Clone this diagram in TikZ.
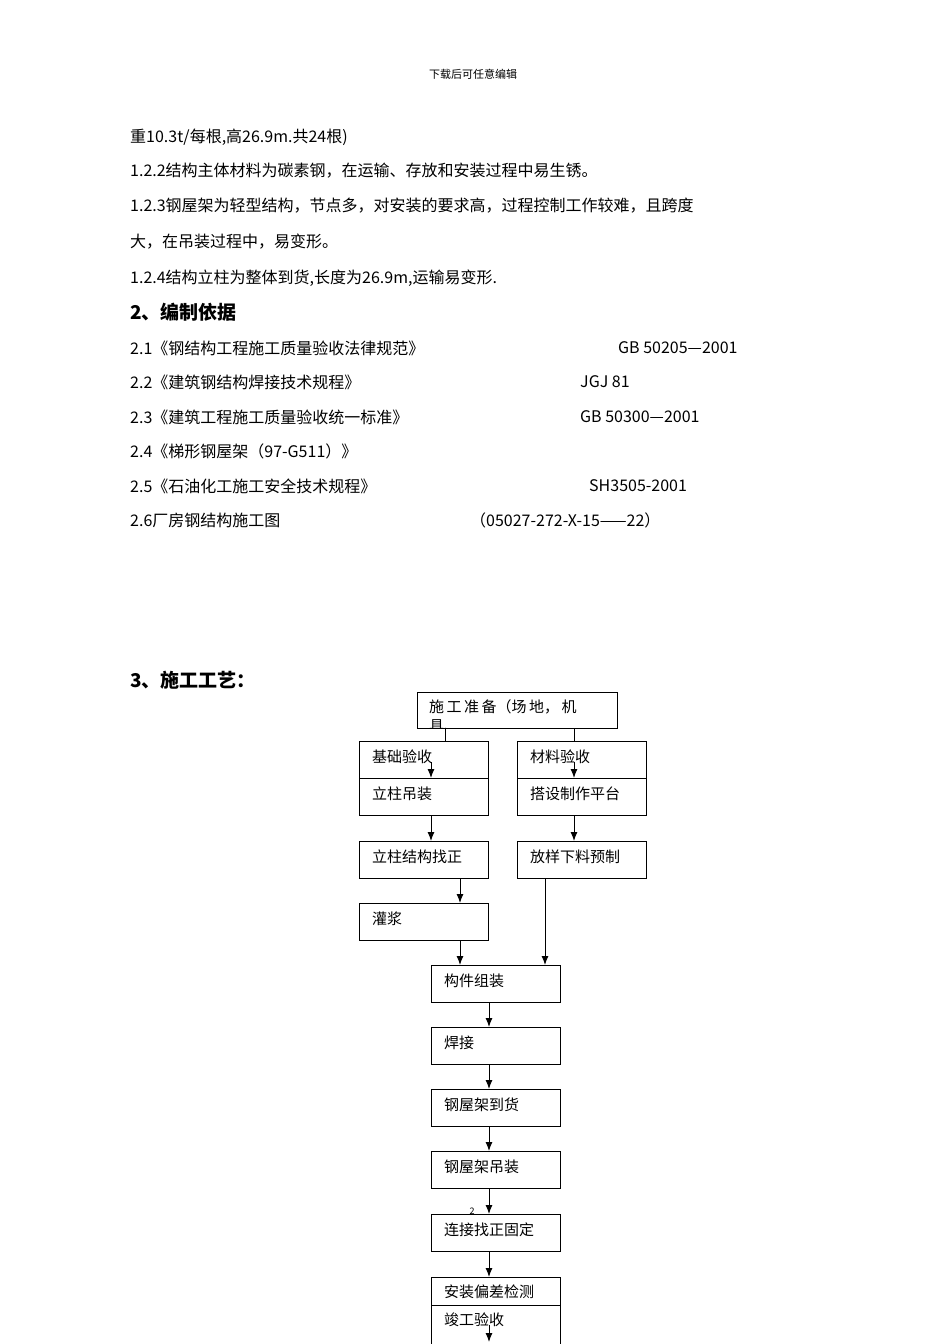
\documentclass[tikz,border=0pt]{standalone}
\usepackage{fontspec}
\usetikzlibrary{arrows.meta}
\setmainfont{Noto Sans CJK SC}
\begin{document}
\begin{tikzpicture}[x=1pt,y=-1pt,
 t/.style={anchor=west,inner sep=0pt,font=\fontsize{16}{16}\selectfont},
 bx/.style={draw,line width=1pt,minimum width=129pt,minimum height=37pt,inner sep=0pt},
 bl/.style={anchor=west,inner sep=0pt,font=\fontsize{15}{15}\selectfont},
 ar/.style={line width=1pt,-{Latex[length=9pt,width=7pt]}}]
\useasboundingbox (0,0) rectangle (950,1344);
\node[inner sep=0pt,font=\fontsize{11}{11}\selectfont] (hd) at (473,74) {下载后可任意编辑};
\node[t] (l1) at (130,137) {重10.3t/每根,高26.9m.共24根)};
\node[t] (l2) at (130,171) {1.2.2结构主体材料为碳素钢，在运输、存放和安装过程中易生锈。};
\node[t] (l3) at (130,206) {1.2.3钢屋架为轻型结构，节点多，对安装的要求高，过程控制工作较难，且跨度};
\node[t] (l4) at (130,242) {大，在吊装过程中，易变形。};
\node[t] (l5) at (130,278) {1.2.4结构立柱为整体到货,长度为26.9m,运输易变形.};
\node[t,font=\fontsize{19}{19}\selectfont\bfseries] (h2) at (130,312) {2、编制依据};
\node[t] (r1) at (130,348) {2.1《钢结构工程施工质量验收法律规范》};
\node[t] (c1) at (618,348) {GB 50205—2001};
\node[t] (r2) at (130,382) {2.2《建筑钢结构焊接技术规程》};
\node[t] (c2) at (580,382) {JGJ 81};
\node[t] (r3) at (130,417) {2.3《建筑工程施工质量验收统一标准》};
\node[t] (c3) at (580,417) {GB 50300—2001};
\node[t] (r4) at (130,451) {2.4《梯形钢屋架（97-G511）》};
\node[t] (r5) at (130,486) {2.5《石油化工施工安全技术规程》};
\node[t] (c5) at (589,486) {SH3505-2001};
\node[t] (r6) at (130,520) {2.6厂房钢结构施工图};
\node[t] (c6) at (470,520) {（05027-272-X-15——22）};
\node[t,font=\fontsize{19}{19}\selectfont\bfseries] (h3) at (130,680) {3、施工工艺：};
% top box
\node[draw,line width=1pt,minimum width=200pt,minimum height=36pt,inner sep=0pt] (top) at (517,710) {};
\begin{scope}
\clip (417,692) rectangle (617,728);
\node[bl] (tt) at (429,707) {施\,工\,准\,备（场\,地，\,机};
\node[bl] (tt2) at (429,726) {具、};
\end{scope}
\node[bx] (a1) at (423.5,759.5) {}; \node[bl] at (372,757) {基础验收};
\node[bx] (a2) at (423.5,796.5) {}; \node[bl] at (372,794) {立柱吊装};
\node[bx] (b1) at (581.5,759.5) {}; \node[bl] at (530,757) {材料验收};
\node[bx] (b2) at (581.5,796.5) {}; \node[bl] at (530,794) {搭设制作平台};
\node[bx] (a3) at (423.5,859.5) {}; \node[bl] at (372,857) {立柱结构找正};
\node[bx] (b3) at (581.5,859.5) {}; \node[bl] at (530,857) {放样下料预制};
\node[bx] (a4) at (423.5,921.5) {}; \node[bl] at (372,919) {灌浆};
\node[bx] (m1) at (495.5,983.5) {}; \node[bl] at (444,981) {构件组装};
\node[bx] (m2) at (495.5,1045.5) {}; \node[bl] at (444,1043) {焊接};
\node[bx] (m3) at (495.5,1107.5) {}; \node[bl] at (444,1105) {钢屋架到货};
\node[bx] (m4) at (495.5,1169.5) {}; \node[bl] at (444,1167) {钢屋架吊装};
\node[bx] (m5) at (495.5,1232.5) {}; \node[bl] at (444,1230) {连接找正固定};
\node[bx,minimum height=28pt] (m6) at (495.5,1291) {}; \node[bl] at (444,1292) {安装偏差检测};
\node[bx,minimum height=39pt] (m7) at (495.5,1324.5) {}; \node[bl] at (444,1320) {竣工验收};
\node[inner sep=0pt,font=\fontsize{9}{9}\selectfont] (two) at (472,1211) {2};
\draw[line width=1pt] (445,728) -- (445,741);
\draw[line width=1pt] (574,728) -- (574,741);
\draw[ar] (431,762) -- (431,778);
\draw[ar] (574,762) -- (574,778);
\draw[ar] (431,815) -- (431,841);
\draw[ar] (574,815) -- (574,841);
\draw[ar] (460,878) -- (460,903);
\draw[ar] (460,940) -- (460,965);
\draw[ar] (545,878) -- (545,965);
\draw[ar] (489,1002) -- (489,1027);
\draw[ar] (489,1064) -- (489,1089);
\draw[ar] (489,1126) -- (489,1151);
\draw[ar] (489,1188) -- (489,1214);
\draw[ar] (489,1251) -- (489,1277);
\draw[ar] (489,1325) -- (489,1342);
\end{tikzpicture}
\end{document}
